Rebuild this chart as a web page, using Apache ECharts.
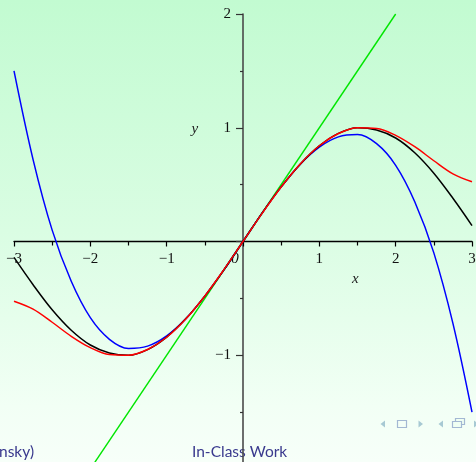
<!DOCTYPE html>
<html>
<head>
<meta charset="utf-8">
<script src="https://cdn.jsdelivr.net/npm/echarts@6/dist/echarts.min.js"></script>
<style>
  html, body { margin: 0; padding: 0; background: #ffffff; }
  #chart { width: 476px; height: 462px; }
</style>
</head>
<body>
<div id="chart"></div>
<script>
// Sample points along x, shared by the three curves
const xs = [-3, -2.75, -2.5, -2.25, -2, -1.75, -1.5, -1.25, -1, -0.75, -0.5, -0.25, 0,
            0.25, 0.5, 0.75, 1, 1.25, 1.5, 1.75, 2, 2.25, 2.5, 2.75, 3];

// sin x (black)
const sinVals = [-0.14, -0.38, -0.60, -0.78, -0.91, -0.98, -1.00, -0.95, -0.84, -0.68, -0.48, -0.25, 0,
                 0.25, 0.48, 0.68, 0.84, 0.95, 1.00, 0.98, 0.91, 0.78, 0.60, 0.38, 0.14];

// cubic approximation (blue)
const cubicVals = [1.50, 0.72, 0.10, -0.35, -0.67, -0.86, -0.94, -0.92, -0.83, -0.68, -0.48, -0.25, 0,
                   0.25, 0.48, 0.68, 0.83, 0.92, 0.94, 0.86, 0.67, 0.35, -0.10, -0.72, -1.50];

// quintic approximation (red)
const quinticVals = [-0.525, -0.595, -0.71, -0.833, -0.933, -0.994, -1.00, -0.949, -0.842, -0.682, -0.479, -0.247, 0,
                     0.247, 0.479, 0.682, 0.842, 0.949, 1.00, 0.994, 0.933, 0.833, 0.71, 0.595, 0.525];

// linear approximation (green)
const linearX = [-2, 2];
const linearVals = [-2, 2];

// axis ranges and labels
const xTicks = [-3, -2, -1, 0, 1, 2, 3];
const yLabelled = [-1, 1, 2];

const pairs = (x, y) => x.map((v, i) => [v, y[i]]);
const minus = v => (v < 0 ? '\u2212' + (-v) : String(v));

const chart = echarts.init(document.getElementById('chart'), null, { renderer: 'canvas' });

const serif = '"Liberation Serif", "DejaVu Serif", serif';
const sans = 'Lato, "Open Sans", sans-serif';
const navColor = '#a7c9d3';

const option = {
  animation: false,
  grid: { left: 14, right: 4, top: 14, bottom: -7, containLabel: false, outerBoundsMode: 'none' },
  xAxis: {
    type: 'value', min: -3, max: 3, interval: 1, position: 'bottom', offset: 0,
    axisLine: { onZero: false, lineStyle: { color: '#000', width: 1.3 } },
    axisTick: { show: true, length: 5, lineStyle: { color: '#000', width: 1.2 } },
    minorTick: { show: true, splitNumber: 2, length: 4, lineStyle: { color: '#000', width: 1.2 } },
    splitLine: { show: false },
    axisLabel: {
      margin: 10, fontFamily: serif, fontSize: 15, color: '#111',
      formatter: v => (xTicks.includes(v) ? (v === 0 ? '{z|0}' : minus(v)) : ''),
      rich: { z: { fontFamily: serif, fontSize: 15, fontStyle: 'italic', color: '#111', padding: [0, 16, 0, 0] } }
    }
  },
  yAxis: {
    type: 'value', min: -2, max: 2, interval: 1, position: 'left', offset: 0,
    axisLine: { onZero: false, lineStyle: { color: '#4a4a4a', width: 1.6 } },
    axisTick: { show: true, length: 7, lineStyle: { color: '#333', width: 1.2 } },
    minorTick: { show: true, splitNumber: 2, length: 3, lineStyle: { color: '#333', width: 1.2 } },
    splitLine: { show: false },
    axisLabel: {
      margin: 12, fontFamily: serif, fontSize: 15, color: '#111',
      formatter: v => (yLabelled.includes(v) ? minus(v) : '')
    }
  },
  series: [
    { type: 'line', data: pairs(linearX, linearVals), showSymbol: false, lineStyle: { color: '#00e600', width: 1.4 }, z: 3 },
    { type: 'line', data: pairs(xs, cubicVals), smooth: 0.35, showSymbol: false, lineStyle: { color: '#0000ff', width: 1.5 }, z: 4 },
    { type: 'line', data: pairs(xs, sinVals), smooth: 0.35, showSymbol: false, lineStyle: { color: '#000000', width: 1.5 }, z: 5 },
    { type: 'line', data: pairs(xs, quinticVals), smooth: 0.35, showSymbol: false, lineStyle: { color: '#ff0000', width: 1.5 }, z: 6 }
  ],
  graphic: [
    {
      type: 'rect', z: -20, silent: true,
      shape: { x: 0, y: 0, width: 476, height: 462 },
      style: {
        fill: new echarts.graphic.LinearGradient(0, 0, 0, 1, [
          { offset: 0, color: '#c2fbd1' },
          { offset: 0.5, color: '#dafde3' },
          { offset: 0.88, color: '#f2fff5' },
          { offset: 1, color: '#f7fff9' }
        ])
      }
    },
    // footer line
    { type: 'text', z: -10, left: -1, top: 444, style: { text: 'nsky)', fontFamily: sans, fontSize: 15.5, fill: '#3a3a8e' } },
    { type: 'text', z: -10, left: 192, top: 444, style: { text: 'In-Class Work', fontFamily: sans, fontSize: 15.5, fill: '#3a3a8e' } },
    // navigation symbols
    { type: 'polygon', z: -10, shape: { points: [[385, 420.5], [385, 427.5], [380.5, 424]] }, style: { fill: navColor } },
    { type: 'rect', z: -10, shape: { x: 397.5, y: 420.5, width: 9, height: 7 }, style: { fill: 'none', stroke: '#a3b8d3', lineWidth: 1.2 } },
    { type: 'polygon', z: -10, shape: { points: [[418.5, 420.5], [418.5, 427.5], [423, 424]] }, style: { fill: navColor } },
    { type: 'polygon', z: -10, shape: { points: [[443, 420.5], [443, 427.5], [438.5, 424]] }, style: { fill: navColor } },
    { type: 'rect', z: -10, shape: { x: 455.5, y: 418.5, width: 9, height: 6 }, style: { fill: '#f0fff3', stroke: '#a3b8d3', lineWidth: 1.2 } },
    { type: 'rect', z: -10, shape: { x: 452.5, y: 421.5, width: 9, height: 6 }, style: { fill: '#f0fff3', stroke: '#a3b8d3', lineWidth: 1.2 } },
    { type: 'polygon', z: -10, shape: { points: [[474, 420.5], [474, 427.5], [478.5, 424]] }, style: { fill: navColor } }
  ]
};

chart.setOption(option);

// Move both axes so they cross at the origin, and place the axis names
const origin = chart.convertToPixel({ gridIndex: 0 }, [0, 0]);
const corner = chart.convertToPixel({ gridIndex: 0 }, [-3, -2]);
const xNamePos = chart.convertToPixel({ gridIndex: 0 }, [1.47, -0.33]);
const yNamePos = chart.convertToPixel({ gridIndex: 0 }, [-0.63, 0.99]);
chart.setOption({
  xAxis: { offset: origin[1] - corner[1] },
  yAxis: { offset: corner[0] - origin[0] },
  graphic: option.graphic.concat([
    { type: 'text', z: 10, x: xNamePos[0], y: xNamePos[1], style: { text: 'x', fontFamily: serif, fontStyle: 'italic', fontSize: 15, fill: '#222', align: 'center', verticalAlign: 'middle' } },
    { type: 'text', z: 10, x: yNamePos[0], y: yNamePos[1], style: { text: 'y', fontFamily: serif, fontStyle: 'italic', fontSize: 15, fill: '#222', align: 'center', verticalAlign: 'middle' } }
  ])
});
</script>
</body>
</html>
